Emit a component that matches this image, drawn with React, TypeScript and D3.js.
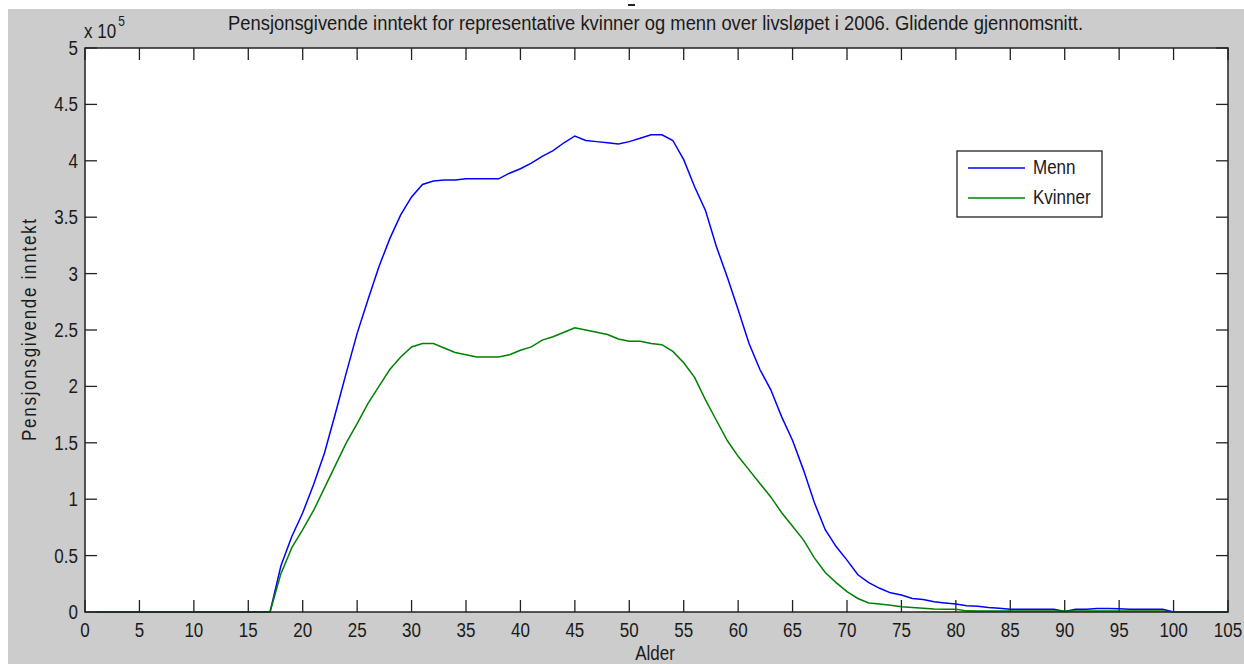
import React, { useEffect, useRef } from 'react';
import * as d3 from 'd3';

// Alder 1..105
const alder: number[] = d3.range(1, 106);

// Glidende gjennomsnitt, i enheter av 10^5 kr
const menn: number[] = [
  0, 0, 0, 0, 0, 0, 0, 0, 0, 0, 0, 0, 0, 0, 0, 0, 0,
  0.41, 0.67, 0.88, 1.13, 1.41, 1.76, 2.12, 2.47, 2.77, 3.06, 3.31, 3.52, 3.68,
  3.79, 3.82, 3.83, 3.83, 3.84, 3.84, 3.84, 3.84, 3.89, 3.93, 3.98, 4.04, 4.09,
  4.16, 4.22, 4.18, 4.17, 4.16, 4.15, 4.17, 4.2, 4.23, 4.23, 4.18, 4.01, 3.77,
  3.56, 3.24, 2.97, 2.68, 2.38, 2.15, 1.97, 1.73, 1.52, 1.26, 0.97, 0.73, 0.58,
  0.46, 0.33, 0.26, 0.21, 0.17, 0.15, 0.12, 0.11, 0.09, 0.08, 0.07, 0.056, 0.05,
  0.04, 0.033, 0.025, 0.024, 0.024, 0.024, 0.024, 0.005, 0.024, 0.024, 0.03,
  0.03, 0.028, 0.024, 0.024, 0.024, 0.024, 0, 0, 0, 0, 0, 0,
];

const kvinner: number[] = [
  0, 0, 0, 0, 0, 0, 0, 0, 0, 0, 0, 0, 0, 0, 0, 0, 0,
  0.34, 0.57, 0.73, 0.9, 1.1, 1.3, 1.5, 1.67, 1.85, 2.0, 2.15, 2.26, 2.35,
  2.38, 2.38, 2.34, 2.3, 2.28, 2.26, 2.26, 2.26, 2.28, 2.32, 2.35, 2.41, 2.44,
  2.48, 2.52, 2.5, 2.48, 2.46, 2.42, 2.4, 2.4, 2.38, 2.37, 2.31, 2.21, 2.08,
  1.88, 1.7, 1.52, 1.38, 1.26, 1.14, 1.02, 0.88, 0.76, 0.64, 0.48, 0.35, 0.26,
  0.18, 0.12, 0.08, 0.07, 0.06, 0.047, 0.04, 0.033, 0.027, 0.025, 0.025, 0.01,
  0.008, 0.008, 0.008, 0.008, 0.008, 0.008, 0.008, 0.008, 0.008, 0.008, 0.008,
  0.008, 0.008, 0.008, 0.008, 0.008, 0.008, 0.008, 0, 0, 0, 0, 0, 0,
];

const xTicks: number[] = d3.range(0, 110, 5);
const yTicks: number[] = [0, 0.5, 1, 1.5, 2, 2.5, 3, 3.5, 4, 4.5, 5];

const W = 1244;
const H = 664;
const FONT = '"Liberation Sans", Arial, sans-serif';
const STRETCH = 1.17; // teksten i originalen er strukket litt vertikalt

const App = () => {
  const ref = useRef<SVGSVGElement | null>(null);

  useEffect(() => {
    const svg = d3.select(ref.current);
    svg.selectAll('*').remove();

    const margin = { top: 48, right: 16, bottom: 52, left: 85 };
    const x = d3.scaleLinear().domain([0, 105]).range([margin.left, W - margin.right]);
    const y = d3.scaleLinear().domain([0, 5]).range([H - margin.bottom, margin.top]);
    const tick = 12;

    // figurbakgrunn
    svg.append('rect').attr('x', 8).attr('y', 9).attr('width', W - 8).attr('height', H - 9).attr('fill', '#cccccc');
    svg.append('rect').attr('x', 628).attr('y', 4).attr('width', 7).attr('height', 2).attr('fill', '#222');

    // plottområde
    svg
      .append('rect')
      .attr('x', x(0))
      .attr('y', y(5))
      .attr('width', x(105) - x(0))
      .attr('height', y(0) - y(5))
      .attr('fill', '#fff');

    const txt = (px: number, py: number, size: number, rot = 0) =>
      svg
        .append('text')
        .attr('transform', `translate(${px},${py}) rotate(${rot}) scale(1,${STRETCH})`)
        .style('font-family', FONT)
        .style('font-size', `${size}px`)
        .attr('fill', '#1a1a1a');

    // ticks
    const ax = svg.append('g').attr('stroke', '#222').attr('stroke-width', 1.3);
    xTicks.forEach(t => {
      ax.append('line').attr('x1', x(t)).attr('x2', x(t)).attr('y1', y(0)).attr('y2', y(0) - tick);
      ax.append('line').attr('x1', x(t)).attr('x2', x(t)).attr('y1', y(5)).attr('y2', y(5) + tick);
    });
    yTicks.forEach(t => {
      ax.append('line').attr('x1', x(0)).attr('x2', x(0) + tick).attr('y1', y(t)).attr('y2', y(t));
      ax.append('line').attr('x1', x(105)).attr('x2', x(105) - tick).attr('y1', y(t)).attr('y2', y(t));
    });

    // linjer
    const line = d3
      .line<number>()
      .x((d, i) => x(alder[i]))
      .y(d => y(d));

    svg.append('path').datum(menn).attr('fill', 'none').attr('stroke', '#0000ff').attr('stroke-width', 1.5).attr('d', line);
    svg.append('path').datum(kvinner).attr('fill', 'none').attr('stroke', '#008000').attr('stroke-width', 1.5).attr('d', line);

    // ramme
    svg
      .append('rect')
      .attr('x', x(0))
      .attr('y', y(5))
      .attr('width', x(105) - x(0))
      .attr('height', y(0) - y(5))
      .attr('fill', 'none')
      .attr('stroke', '#222')
      .attr('stroke-width', 1.5);

    // tick-etiketter
    xTicks.forEach(t => {
      txt(x(t), y(0) + 25, 17).attr('text-anchor', 'middle').text(String(t));
    });
    yTicks.forEach(t => {
      txt(x(0) - 7, y(t) + 7, 17).attr('text-anchor', 'end').text(String(t));
    });

    // x 10^5
    const exp = txt(x(0) - 1, 38, 17);
    exp.append('tspan').text('x 10');
    exp.append('tspan').attr('dy', -10).attr('dx', 2).style('font-size', '12px').text('5');

    // tittel
    txt(655.5, 30, 17)
      .attr('text-anchor', 'middle')
      .attr('textLength', 855)
      .attr('lengthAdjust', 'spacingAndGlyphs')
      .text('Pensjonsgivende inntekt for representative kvinner og menn over livsløpet i 2006. Glidende gjennomsnitt.');

    // aksetitler
    txt(655, 660, 17).attr('text-anchor', 'middle').text('Alder');
    txt(36, (y(0) + y(5)) / 2, 17, -90)
      .attr('text-anchor', 'middle')
      .attr('textLength', 222)
      .attr('lengthAdjust', 'spacing')
      .text('Pensjonsgivende inntekt');

    // legende
    const items = [
      { label: 'Menn', color: '#0000ff' },
      { label: 'Kvinner', color: '#008000' },
    ];
    svg.append('rect').attr('x', 957).attr('y', 151).attr('width', 145).attr('height', 66).attr('fill', '#fff').attr('stroke', '#222').attr('stroke-width', 1.3);
    items.forEach((it, i) => {
      svg.append('line').attr('x1', 968).attr('x2', 1025).attr('y1', 168 + i * 30).attr('y2', 168 + i * 30).attr('stroke', it.color).attr('stroke-width', 1.5);
      txt(1033, 174 + i * 30, 17).text(it.label);
    });
  }, []);

  return (
    <svg
      ref={ref}
      width={W}
      height={H}
      style={{ position: 'absolute', left: 0, top: 0, background: '#fff' }}
    />
  );
};

export default App;
